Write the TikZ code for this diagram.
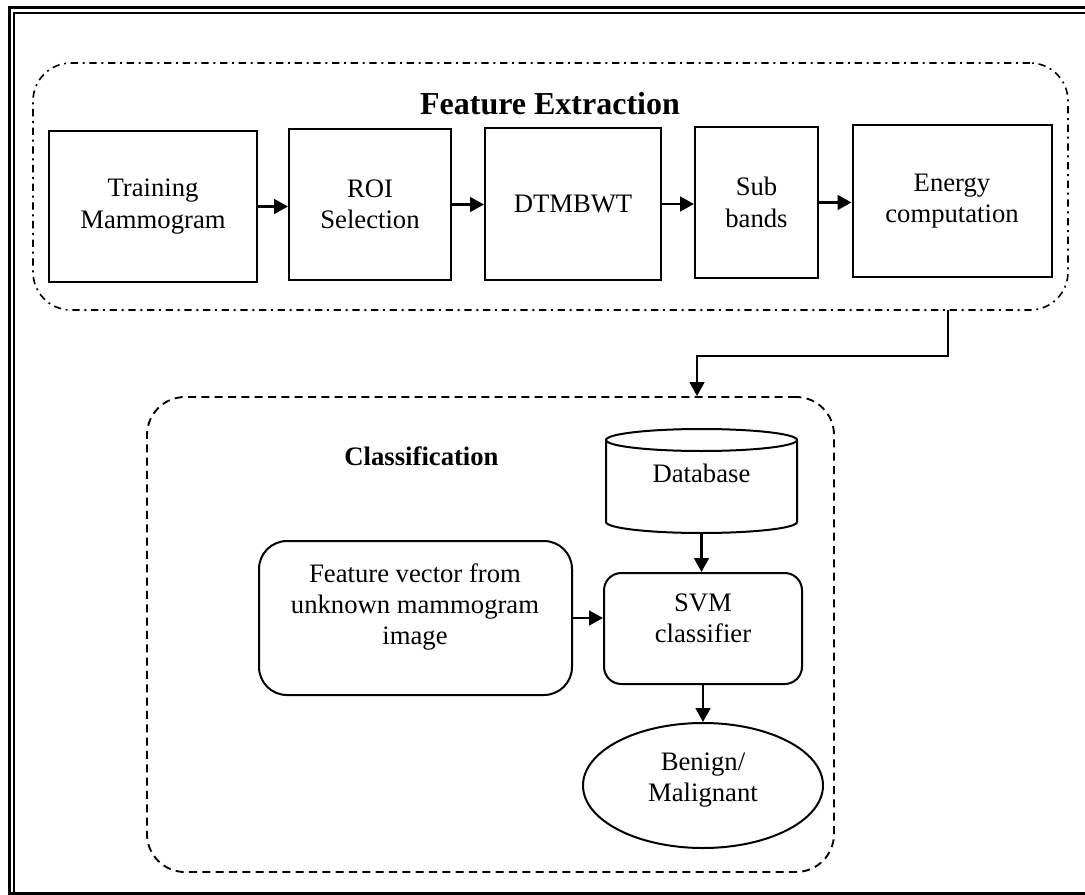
\documentclass[tikz,border=0pt]{standalone}
\usepackage{fontspec}
\setmainfont{Liberation Serif}
\usetikzlibrary{arrows.meta,fit,shapes.geometric}
\newcommand\diagfont{\fontsize{20}{23.5}\selectfont}
\begin{document}
\begin{tikzpicture}[x=0.75pt,y=-0.75pt,
  box/.style={draw,line width=1.5pt,inner sep=0pt,align=center,font=\diagfont},
  rbox/.style={box,rounded corners=#1},
  txt/.style={align=center,font=\diagfont,inner sep=0pt},
  arr/.style={line width=2pt,-{Triangle[length=10.5pt,width=11pt]}},
  grpa/.style={draw,inner sep=0pt,line width=1.2pt,rounded corners=28.5pt,dash pattern=on 5.5pt off 3.5pt on 1.5pt off 3.5pt},
  grpb/.style={draw,inner sep=0pt,line width=1.4pt,rounded corners=28.5pt,dash pattern=on 6pt off 4pt},
  frame/.style={draw,line width=#1}
]
\useasboundingbox (0,0) rectangle (1085,895);
\clip (0,0) rectangle (1085,895);
% outer frame
\draw[frame=2.3pt] (9.6,7.6) rectangle (1130,893.8);
\draw[frame=1.3pt] (14.3,12.8) rectangle (1125,930);

% Feature extraction group
\node[grpa, fit={(33,63) (1068,310)}] (fe) {};
\node[font=\bfseries\fontsize{24}{28}\selectfont, anchor=base, inner sep=0pt] (fetitle) at (550,115) {Feature Extraction};

\node[box, minimum width=156pt, minimum height=113.25pt] (tr) at (153,206.5) {Training\\Mammogram};
\node[box, minimum width=121.5pt, minimum height=113.25pt] (roi) at (370,204.5) {ROI\\Selection};
\node[box, minimum width=132pt, minimum height=114pt] (dt) at (573,204) {DTMBWT};
\node[box, minimum width=92.25pt, minimum height=113.25pt] (sb) at (756.5,202.5) {Sub\\bands};
\node[box, minimum width=149.25pt, minimum height=114pt] (en) at (952,201) {Energy\\computation};

\draw[arr] (tr.east) -- (tr.east -| roi.west);
\draw[arr] (roi.east) -- (roi.east -| dt.west);
\draw[arr] (dt.east) -- (dt.east -| sb.west);
\draw[arr] (sb.east) -- (sb.east -| en.west);

% Classification group
\node[grpb, fit={(147,397) (834,872)}] (cls) {};
\node[font=\bfseries\fontsize{20}{24}\selectfont, anchor=base, inner sep=0pt] (cltitle) at (421.5,465) {Classification};

\coordinate (tap) at (948,310);
\coordinate (bend) at (697,356);
\draw[arr] (tap) |- (bend) -- (bend |- cls.north);

% Database cylinder
\node[inner sep=0pt, fit={(606,429) (797,533)}] (db) {};
\draw[line width=1.5pt] (606,440) -- (606,522) arc[start angle=180, end angle=360, x radius=71.625pt, y radius=8.25pt] -- (797,440);
\draw[line width=1.5pt] (701.5,440) ellipse [x radius=71.625pt, y radius=8.25pt];
\node[txt] (dbt) at (701.5,473) {Database};

% Feature vector box
\node[rbox=21pt, fit={(259,541) (572,695)}] (fv) {};
\node[txt] (fvt) at (415,607) {Feature vector from\\unknown mammogram\\image};

% SVM box
\node[rbox=13pt, fit={(604,573) (802,684)}] (svm) {};
\node[txt] (svmt) at (703,618) {SVM\\classifier};

% Result ellipse
\node[box, ellipse, minimum width=180pt, minimum height=93.75pt] (bm) at (703,785.5) {};
\node[txt] (bmt) at (703,780) {Benign/\\Malignant};

\draw[arr] (db.south) -- (db.south |- svm.north);
\draw[arr] (fv.east) -- (fv.east -| svm.west);
\draw[arr] (svm.south) -- (bm.north);
\end{tikzpicture}
\end{document}
